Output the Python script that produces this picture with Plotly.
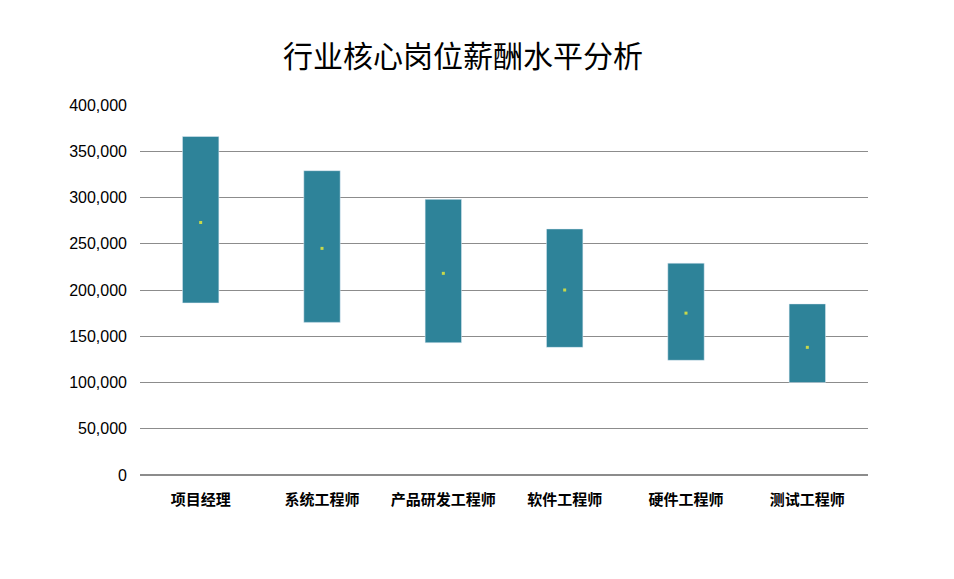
import plotly.graph_objects as go

positions = ["项目经理", "系统工程师", "产品研发工程师", "软件工程师", "硬件工程师", "测试工程师"]
low = [186000, 165000, 143000, 138000, 124000, 100000]
high = [366000, 329000, 298000, 266000, 229000, 185000]
mid = [273000, 245000, 218000, 200000, 175000, 138000]

fig = go.Figure()
fig.add_bar(x=positions, y=[h - l for h, l in zip(high, low)], base=low,
            width=0.3, marker_color="#2E8399", hoverinfo="skip")
fig.add_scatter(x=positions, y=mid, mode="markers",
                marker=dict(color="#C8D84A", size=3, symbol="square"))

font = "Noto Sans CJK SC"
fig.update_layout(
    width=954, height=579, showlegend=False, plot_bgcolor="white", paper_bgcolor="white",
    title=dict(text="行业核心岗位薪酬水平分析", x=0.477, y=0.935, xanchor="center",
               font=dict(family=font, size=30, color="black")),
    margin=dict(l=132, r=94, t=97, b=112),
    font=dict(family=font, color="black"),
)
fig.update_yaxes(range=[0, 400000], dtick=50000, tickformat=",", showgrid=True,
                 gridcolor="#8C8C8C", gridwidth=1, zeroline=True, zerolinecolor="#8C8C8C",
                 tickfont=dict(size=16, family="Liberation Sans"), ticklabelstandoff=12)
fig.update_xaxes(tickfont=dict(size=15, family=font, weight="bold"), showline=False,
                 ticklabelstandoff=14)
fig.write_html("out.html")
